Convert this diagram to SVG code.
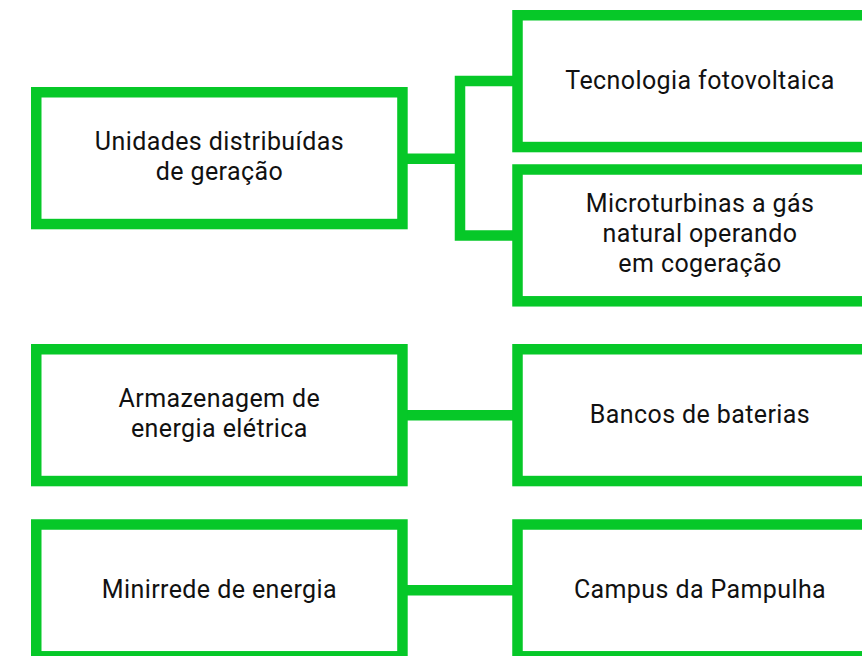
<svg xmlns="http://www.w3.org/2000/svg" width="862" height="656" viewBox="0 0 862 656">
<style>
.box{fill:#ffffff;stroke:#06c828;stroke-width:10.5}
.conn{fill:none;stroke:#06c828;stroke-width:10.5;stroke-linejoin:miter;stroke-linecap:butt}
text{font-family:Roboto,"Liberation Sans",sans-serif;font-size:25px;letter-spacing:0.4px;fill:#111111;text-anchor:middle}
</style>
<rect width="862" height="656" fill="#ffffff"/>
<g id="connectors">
<path class="conn" d="M407 158.7 H460"/>
<path class="conn" d="M514 81 H460 V235.5 H514"/>
<path class="conn" d="M407 415.3 H514"/>
<path class="conn" d="M407 590.3 H514"/>
</g>
<g id="n-unidades">
<rect class="box" x="36.25" y="92.25" width="366.2" height="131.8"/>
<text x="219.4" y="150">Unidades distribuídas</text>
<text x="219.4" y="180">de geração</text>
</g>
<g id="n-fotovoltaica">
<rect class="box" x="517.5" y="15.25" width="366.2" height="131.8"/>
<text x="700" y="89">Tecnologia fotovoltaica</text>
</g>
<g id="n-microturbinas">
<rect class="box" x="517.5" y="169.5" width="366.2" height="131.8"/>
<text x="700" y="212">Microturbinas a gás</text>
<text x="700" y="242">natural operando</text>
<text x="700" y="272">em cogeração</text>
</g>
<g id="n-armazenagem">
<rect class="box" x="36.25" y="349.25" width="366.2" height="131.8"/>
<text x="219.4" y="407">Armazenagem de</text>
<text x="219.4" y="437">energia elétrica</text>
</g>
<g id="n-bancos">
<rect class="box" x="517.5" y="349.25" width="366.2" height="131.8"/>
<text x="700" y="423">Bancos de baterias</text>
</g>
<g id="n-minirrede">
<rect class="box" x="36.25" y="524.5" width="366.2" height="131.8"/>
<text x="219.4" y="598">Minirrede de energia</text>
</g>
<g id="n-campus">
<rect class="box" x="517.5" y="524.5" width="366.2" height="131.8"/>
<text x="700" y="598">Campus da Pampulha</text>
</g>
</svg>
